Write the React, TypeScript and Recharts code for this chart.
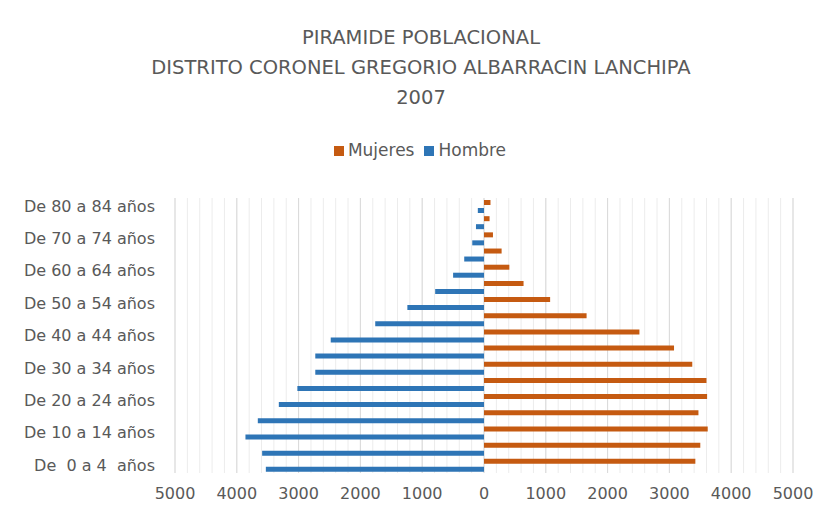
import { Bar, BarChart, CartesianGrid, Legend, XAxis, YAxis } from 'recharts'

const ageGroups = [
  'De \u00A00 a 4 \u00A0años',
  'De 5 a 9 años',
  'De 10 a 14 años',
  'De 15 a 19 años',
  'De 20 a 24 años',
  'De 25 a 29 años',
  'De 30 a 34 años',
  'De 35 a 39 años',
  'De 40 a 44 años',
  'De 45 a 49 años',
  'De 50 a 54 años',
  'De 55 a 59 años',
  'De 60 a 64 años',
  'De 65 a 69 años',
  'De 70 a 74 años',
  'De 75 a 79 años',
  'De 80 a 84 años',
]

const mujeres = [3420, 3500, 3620, 3470, 3610, 3600, 3370, 3075, 2515, 1660, 1070, 640, 410, 285, 145, 90, 105]
const hombre = [3530, 3590, 3860, 3660, 3320, 3020, 2730, 2730, 2480, 1760, 1240, 790, 500, 320, 190, 130, 100]

const xDomain: [number, number] = [-5000, 5000]
const majorTicks = [-5000, -4000, -3000, -2000, -1000, 0, 1000, 2000, 3000, 4000, 5000]
// minor gridlines every 200
const minorTicks: number[] = []
for (let v = xDomain[0]; v <= xDomain[1]; v += 200) minorTicks.push(v)

const titleLines = ['PIRAMIDE POBLACIONAL', 'DISTRITO CORONEL GREGORIO ALBARRACIN LANCHIPA', '2007']
const seriesOrder = ['Mujeres', 'Hombre']

const data = ageGroups.map((age, i) => ({
  age,
  mujeres: mujeres[i],
  hombre: -hombre[i],
}))

const textColor = '#595959'
const font = '"DejaVu Sans", sans-serif'

export default function App() {
  return (
    <div style={{ position: 'absolute', left: 0, top: 0, width: 817, height: 511, background: '#fff', fontFamily: font }}>
      <div
        style={{
          position: 'absolute',
          left: 0,
          top: 23,
          width: 842,
          textAlign: 'center',
          color: textColor,
          fontSize: 19.5,
          lineHeight: '30px',
        }}
      >
        {titleLines.map((t) => (
          <div key={t}>{t}</div>
        ))}
      </div>
      <BarChart
        width={817}
        height={511}
        data={data}
        layout="vertical"
        barSize={5}
        barGap={3}
        margin={{ top: 178, right: 24, bottom: 8, left: 0 }}
      >
        <CartesianGrid
          horizontal={false}
          stroke="#ececec"
          verticalCoordinatesGenerator={({ offset }: any) =>
            minorTicks.map((v) => offset.left + ((v - xDomain[0]) / (xDomain[1] - xDomain[0])) * offset.width)
          }
        />
        <CartesianGrid horizontal={false} stroke="#d9d9d9" />
        <XAxis
          type="number"
          domain={xDomain}
          ticks={majorTicks}
          tickFormatter={(v) => String(Math.abs(v))}
          axisLine={false}
          tickLine={false}
          tickSize={0}
          tickMargin={15}
          height={30}
          tick={{ fill: textColor, fontSize: 16, fontFamily: font }}
        />
        <YAxis
          type="category"
          dataKey="age"
          reversed
          interval={1}
          width={175}
          axisLine={false}
          tickLine={false}
          tickSize={0}
          tickMargin={20}
          tick={{ fill: textColor, fontSize: 16, fontFamily: font }}
        />
        <Legend
          verticalAlign="top"
          iconType="square"
          iconSize={10}
          itemSorter={(item) => seriesOrder.indexOf(String(item.value))}
          wrapperStyle={{ top: 140, left: 0, width: 850, fontSize: 17, fontFamily: font }}
          formatter={(value) => <span style={{ color: textColor }}>{value}</span>}
        />
        <Bar dataKey="mujeres" name="Mujeres" fill="#c55a11" isAnimationActive={false} />
        <Bar dataKey="hombre" name="Hombre" fill="#2e75b6" isAnimationActive={false} />
      </BarChart>
    </div>
  )
}
